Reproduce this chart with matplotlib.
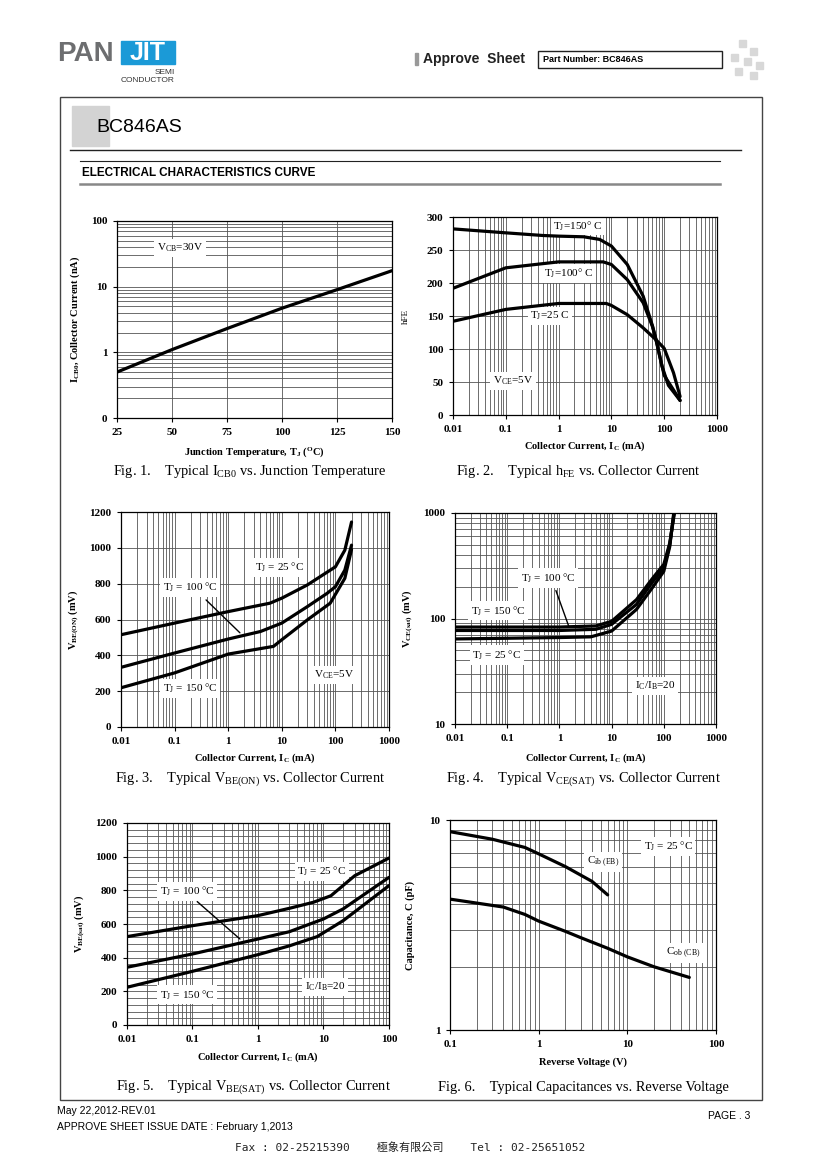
import matplotlib
matplotlib.use('Agg')
import matplotlib.pyplot as plt
import matplotlib.ticker as mticker
from matplotlib.patches import Rectangle

plt.rcParams['font.family'] = ['Liberation Serif', 'DejaVu Serif']
plt.rcParams['mathtext.fontset'] = 'custom'
plt.rcParams['mathtext.rm'] = 'Liberation Serif'
plt.rcParams['mathtext.it'] = 'Liberation Serif'
plt.rcParams['mathtext.bf'] = 'Liberation Serif:bold'
plt.rcParams['mathtext.default'] = 'regular'

# Fig. 1  ICB0 vs junction temperature
t_j = [25, 50, 75, 100, 125, 150]
i_cb0 = [0.5, 1.1, 2.3, 4.7, 9.0, 17.5]

# Fig. 2  hFE vs collector current
hfe150_ic = [0.01, 0.1, 0.5, 1, 3, 6, 10, 20, 40, 60, 70, 90, 120, 200]
hfe150 = [282, 276, 272, 271, 270, 266, 256, 228, 180, 135, 114, 75, 45, 22]
hfe100_ic = [0.01, 0.1, 1, 7, 10, 20, 40, 60, 70, 100, 150, 200]
hfe100 = [192, 223, 232, 232, 228, 205, 170, 134, 114, 60, 38, 22]
hfe25_ic = [0.01, 0.1, 1, 8, 10, 20, 40, 70, 100, 150, 200]
hfe25 = [142, 160, 169, 169, 166, 152, 132, 114, 101, 64, 28]

# Fig. 3  VBE(ON) vs collector current
vbe25_ic = [0.01, 0.1, 1, 6, 10, 30, 100, 150, 200]
vbe25 = [515, 580, 644, 691, 719, 793, 894, 987, 1144]
vbe100_ic = [0.01, 0.1, 1, 4, 10, 30, 70, 100, 150, 200]
vbe100 = [333, 413, 491, 533, 580, 672, 746, 783, 876, 1015]
vbe150_ic = [0.01, 0.1, 1, 7, 10, 30, 80, 150, 200]
vbe150 = [219, 302, 407, 450, 487, 598, 691, 830, 991]

# Fig. 4  VCE(SAT) vs collector current
vce150_ic = [0.01, 1, 5, 10, 30, 60, 100, 130, 160]
vce150 = [83, 83, 85, 94, 151, 238, 326, 520, 1000]
vce100_ic = [0.01, 1, 5, 10, 30, 60, 100, 130, 157]
vce100 = [77, 77, 79, 88, 136, 220, 302, 500, 1000]
vce25_ic = [0.01, 1, 4, 10, 30, 60, 100, 130, 155]
vce25 = [64, 66, 67, 76, 122, 195, 280, 480, 1000]

# Fig. 5  VBE(SAT) vs collector current
vbs25_ic = [0.01, 0.1, 1, 3, 7, 13, 30, 100]
vbs25 = [525, 590, 650, 693, 729, 768, 887, 992]
vbs100_ic = [0.01, 0.1, 1, 3, 10, 20, 100]
vbs100 = [343, 422, 511, 554, 630, 690, 877]
vbs150_ic = [0.01, 0.1, 1, 3, 8, 20, 100]
vbs150 = [224, 319, 418, 470, 525, 620, 828]

# Fig. 6  capacitances vs reverse voltage
cib_v = [0.1, 0.3, 0.7, 1, 2, 4, 6]
cib = [8.8, 8.1, 7.4, 6.9, 6.0, 5.1, 4.4]
cob_v = [0.1, 0.4, 0.7, 1, 2, 3, 6, 10, 20, 50]
cob = [4.2, 3.85, 3.55, 3.3, 2.95, 2.75, 2.45, 2.23, 2.0, 1.78]

W, H = 820, 1160
fig = plt.figure(figsize=(W / 100, H / 100), dpi=100)

# page overlay in pixel coordinates
page = fig.add_axes([0, 0, 1, 1], zorder=-1)
page.set_xlim(0, W)
page.set_ylim(H, 0)
page.axis('off')

sans = ['Liberation Sans', 'DejaVu Sans']
page.text(57, 54, 'PAN', fontsize=20, color='#6d6e70', family=sans, weight='bold', va='center')
page.add_patch(Rectangle((121, 41), 54, 23, color='#1b9ad7'))
page.text(148, 53, 'JIT', fontsize=18, color='white', family=sans, weight='bold', va='center', ha='center')
page.text(175, 72, 'SEMI', fontsize=6, family=sans, ha='right', va='center', color='#333')
page.text(175, 80, 'CONDUCTOR', fontsize=6, family=sans, ha='right', va='center', color='#333')
page.add_patch(Rectangle((415, 53), 3, 12, color='#999'))
page.text(423, 59, 'Approve  Sheet', fontsize=10, family=sans, weight='bold', va='center', color='#222')
page.add_patch(Rectangle((538, 51), 184, 17, fill=False, ec='#222', lw=1))
page.text(543, 60, 'Part Number: BC846AS', fontsize=6.5, family=sans, weight='bold', va='center')
for sx, sy in [(739, 40), (750, 48), (731, 54), (744, 58), (756, 62), (735, 68), (750, 72)]:
    page.add_patch(Rectangle((sx, sy), 7, 7, color='#d8d8d8'))

page.add_patch(Rectangle((60, 97), 702, 1003, fill=False, ec='#444', lw=1))
page.add_patch(Rectangle((72, 106), 37, 40, color='#d3d3d3'))
page.text(96, 127, 'BC846AS', fontsize=14, family=sans, va='center')
page.plot([70, 741], [150, 150], color='#222', lw=1)
page.plot([80, 720], [161, 161], color='#222', lw=0.8)
page.text(82, 173, 'ELECTRICAL CHARACTERISTICS CURVE', fontsize=8.5, family=sans,
          weight='bold', va='center')
page.plot([80, 720], [184, 184], color='#888', lw=1.8)

page.text(57, 1111, 'May 22,2012-REV.01', fontsize=7.5, family=sans, va='center')
page.text(57, 1127, 'APPROVE SHEET ISSUE DATE : February 1,2013', fontsize=7.5, family=sans, va='center')
page.text(750, 1116, 'PAGE . 3', fontsize=7.5, family=sans, va='center', ha='right')
page.text(410, 1147, 'Fax : 02-25215390    極象有限公司    Tel : 02-25651052', fontsize=8,
          family=['DejaVu Sans Mono', 'Noto Sans CJK TC'], va='center', ha='center', color='#222')

captions = [
    (250, 471, 'Fig. 1.    Typical I$_{CB0}$ vs. Junction Temperature'),
    (578, 471, 'Fig. 2.    Typical h$_{FE}$ vs. Collector Current'),
    (250, 779, 'Fig. 3.    Typical V$_{BE(ON)}$ vs. Collector Current'),
    (583, 779, 'Fig. 4.    Typical V$_{CE(SAT)}$ vs. Collector Current'),
    (253, 1087, 'Fig. 5.    Typical V$_{BE(SAT)}$ vs. Collector Current'),
    (583, 1087, 'Fig. 6.    Typical Capacitances vs. Reverse Voltage'),
]
for cx, cy, s in captions:
    page.text(cx, cy, s, fontsize=10.4, ha='center', va='center')


def make_ax(x0, y0, x1, y1):
    ax = fig.add_axes([x0 / W, 1 - y1 / H, (x1 - x0) / W, (y1 - y0) / H])
    for sp in ax.spines.values():
        sp.set_linewidth(0.9)
    ax.tick_params(which='major', length=3, labelsize=8, pad=4)
    ax.tick_params(which='minor', length=0)
    return ax


def bold_ticks(ax):
    for lab in ax.get_xticklabels() + ax.get_yticklabels():
        lab.set_fontweight('bold')


fmt = mticker.FuncFormatter(lambda v, p: f'{v:g}')
line_kw = dict(color='black', lw=2.3, solid_capstyle='round', zorder=3)
grid_kw = dict(color='#555', lw=0.6)
box = dict(fc='white', ec='none', pad=2)
lab_kw = dict(fontsize=7.5, weight='bold')
note_kw = dict(fontsize=8, bbox=box, ha='center', va='center', zorder=2.5)

# Fig. 1
ax = make_ax(117, 221, 392, 418)
ax.plot(t_j, i_cb0, **line_kw)
ax.set_yscale('log')
ax.set_ylim(0.1, 100)
ax.set_xlim(25, 150)
ax.set_xticks([25, 50, 75, 100, 125, 150])
ax.yaxis.set_major_locator(mticker.FixedLocator([0.1, 1, 10, 100]))
ax.yaxis.set_minor_locator(mticker.LogLocator(subs=range(2, 10)))
ax.yaxis.set_major_formatter(mticker.FuncFormatter(lambda v, p: '0' if v < 0.5 else f'{v:g}'))
ax.yaxis.set_minor_formatter(mticker.NullFormatter())
ax.grid(True, which='both', axis='y', **grid_kw)
ax.grid(True, which='major', axis='x', **grid_kw)
ax.set_xlabel('Junction Temperature, T$_J$ ($^O$C)', labelpad=6, **lab_kw)
ax.set_ylabel('I$_{CB0}$, Collector Current (nA)', labelpad=6, **lab_kw)
ax.text(0.229, 0.863, 'V$_{CB}$=30V', transform=ax.transAxes, **note_kw)
bold_ticks(ax)

# Fig. 2
ax = make_ax(453, 217, 717, 415)
ax.plot(hfe150_ic, hfe150, **line_kw)
ax.plot(hfe100_ic, hfe100, **line_kw)
ax.plot(hfe25_ic, hfe25, **line_kw)
ax.set_xscale('log')
ax.set_xlim(0.01, 1000)
ax.set_ylim(0, 300)
ax.set_yticks(range(0, 301, 50))
ax.xaxis.set_major_formatter(fmt)
ax.xaxis.set_minor_locator(mticker.LogLocator(subs=range(2, 10)))
ax.xaxis.set_minor_formatter(mticker.NullFormatter())
ax.grid(True, which='both', axis='x', **grid_kw)
ax.grid(True, which='major', axis='y', **grid_kw)
ax.set_xlabel('Collector Current, I$_C$ (mA)', labelpad=4, **lab_kw)
ax.set_ylabel('hFE', labelpad=12, fontsize=6.5)
ax.text(0.473, 0.955, 'T$_J$=150° C', transform=ax.transAxes, **note_kw)
ax.text(0.436, 0.717, 'T$_J$=100° C', transform=ax.transAxes, **note_kw)
ax.text(0.367, 0.50, 'T$_J$=25 C', transform=ax.transAxes, **note_kw)
ax.text(0.227, 0.172, 'V$_{CE}$=5V', transform=ax.transAxes, **note_kw)
bold_ticks(ax)

# Fig. 3
ax = make_ax(121, 512, 389, 727)
ax.plot(vbe25_ic, vbe25, **line_kw)
ax.plot(vbe100_ic, vbe100, **line_kw)
ax.plot(vbe150_ic, vbe150, **line_kw)
ax.set_xscale('log')
ax.set_xlim(0.01, 1000)
ax.set_ylim(0, 1200)
ax.set_yticks(range(0, 1201, 200))
ax.xaxis.set_major_formatter(fmt)
ax.xaxis.set_minor_locator(mticker.LogLocator(subs=range(2, 10)))
ax.xaxis.set_minor_formatter(mticker.NullFormatter())
ax.grid(True, which='both', axis='x', **grid_kw)
ax.grid(True, which='major', axis='y', **grid_kw)
ax.set_xlabel('Collector Current, I$_C$ (mA)', labelpad=4, **lab_kw)
ax.set_ylabel('V$_{BE(ON)}$ (mV)', labelpad=6, **lab_kw)
ax.text(0.593, 0.744, 'T$_J$ = 25 °C', transform=ax.transAxes, **note_kw)
ax.text(0.257, 0.651, 'T$_J$ = 100 °C', transform=ax.transAxes, **note_kw)
ax.text(0.257, 0.181, 'T$_J$ = 150 °C', transform=ax.transAxes, **note_kw)
ax.text(0.795, 0.242, 'V$_{CE}$=5V', transform=ax.transAxes, **note_kw)
ax.annotate('', xy=(1.8, 515), xytext=(0.31, 0.60), textcoords='axes fraction',
            arrowprops=dict(arrowstyle='-', lw=1, color='black'))
bold_ticks(ax)

# Fig. 4
ax = make_ax(455, 513, 716, 724)
ax.plot(vce150_ic, vce150, **line_kw)
ax.plot(vce100_ic, vce100, **line_kw)
ax.plot(vce25_ic, vce25, **line_kw)
ax.set_xscale('log')
ax.set_yscale('log')
ax.set_xlim(0.01, 1000)
ax.set_ylim(10, 1000)
for a in (ax.xaxis, ax.yaxis):
    a.set_major_formatter(fmt)
    a.set_minor_locator(mticker.LogLocator(subs=range(2, 10)))
    a.set_minor_formatter(mticker.NullFormatter())
ax.grid(True, which='both', **grid_kw)
ax.set_xlabel('Collector Current, I$_C$ (mA)', labelpad=6, **lab_kw)
ax.set_ylabel('V$_{CE(sat)}$ (mV)', labelpad=6, **lab_kw)
ax.text(0.356, 0.692, 'T$_J$ = 100 °C', transform=ax.transAxes, **note_kw)
ax.text(0.165, 0.536, 'T$_J$ = 150 °C', transform=ax.transAxes, **note_kw)
ax.text(0.161, 0.327, 'T$_J$ = 25 °C', transform=ax.transAxes, **note_kw)
ax.text(0.766, 0.18, 'I$_C$/I$_B$=20', transform=ax.transAxes, **note_kw)
ax.annotate('', xy=(1.6, 78), xytext=(0.383, 0.645), textcoords='axes fraction',
            arrowprops=dict(arrowstyle='-', lw=1, color='black'))
bold_ticks(ax)

# Fig. 5
ax = make_ax(127, 823, 389, 1025)
ax.plot(vbs25_ic, vbs25, **line_kw)
ax.plot(vbs100_ic, vbs100, **line_kw)
ax.plot(vbs150_ic, vbs150, **line_kw)
ax.set_xscale('log')
ax.set_xlim(0.01, 100)
ax.set_ylim(0, 1200)
ax.set_yticks(range(0, 1201, 200))
ax.yaxis.set_minor_locator(mticker.MultipleLocator(40))
ax.xaxis.set_major_formatter(fmt)
ax.xaxis.set_minor_locator(mticker.LogLocator(subs=range(2, 10)))
ax.xaxis.set_minor_formatter(mticker.NullFormatter())
ax.grid(True, which='both', **grid_kw)
ax.set_xlabel('Collector Current, I$_C$ (mA)', labelpad=5, **lab_kw)
ax.set_ylabel('V$_{BE(sat)}$ (mV)', labelpad=6, **lab_kw)
ax.text(0.744, 0.762, 'T$_J$ = 25 °C', transform=ax.transAxes, **note_kw)
ax.text(0.229, 0.663, 'T$_J$ = 100 °C', transform=ax.transAxes, **note_kw)
ax.text(0.229, 0.149, 'T$_J$ = 150 °C', transform=ax.transAxes, **note_kw)
ax.text(0.756, 0.188, 'I$_C$/I$_B$=20', transform=ax.transAxes, **note_kw)
ax.annotate('', xy=(0.57, 500), xytext=(0.26, 0.62), textcoords='axes fraction',
            arrowprops=dict(arrowstyle='-', lw=1, color='black'))
bold_ticks(ax)

# Fig. 6
ax = make_ax(450, 820, 716, 1030)
ax.plot(cib_v, cib, **line_kw)
ax.plot(cob_v, cob, **line_kw)
ax.set_xscale('log')
ax.set_yscale('log')
ax.set_xlim(0.1, 100)
ax.set_ylim(1, 10)
for a in (ax.xaxis, ax.yaxis):
    a.set_major_formatter(fmt)
    a.set_minor_locator(mticker.LogLocator(subs=range(2, 10)))
    a.set_minor_formatter(mticker.NullFormatter())
ax.grid(True, which='both', **grid_kw)
ax.set_xlabel('Reverse Voltage (V)', labelpad=6, **lab_kw)
ax.set_ylabel('Capacitance, C (pF)', labelpad=10, **lab_kw)
ax.text(0.82, 0.876, 'T$_J$ = 25 °C', transform=ax.transAxes, **note_kw)
ax.text(0.575, 0.80, 'C$_{ib\\ (EB)}$', transform=ax.transAxes, **note_kw)
ax.text(0.876, 0.367, 'C$_{ob\\ (CB)}$', transform=ax.transAxes, **note_kw)
bold_ticks(ax)

fig.savefig('out.png', dpi=100)
